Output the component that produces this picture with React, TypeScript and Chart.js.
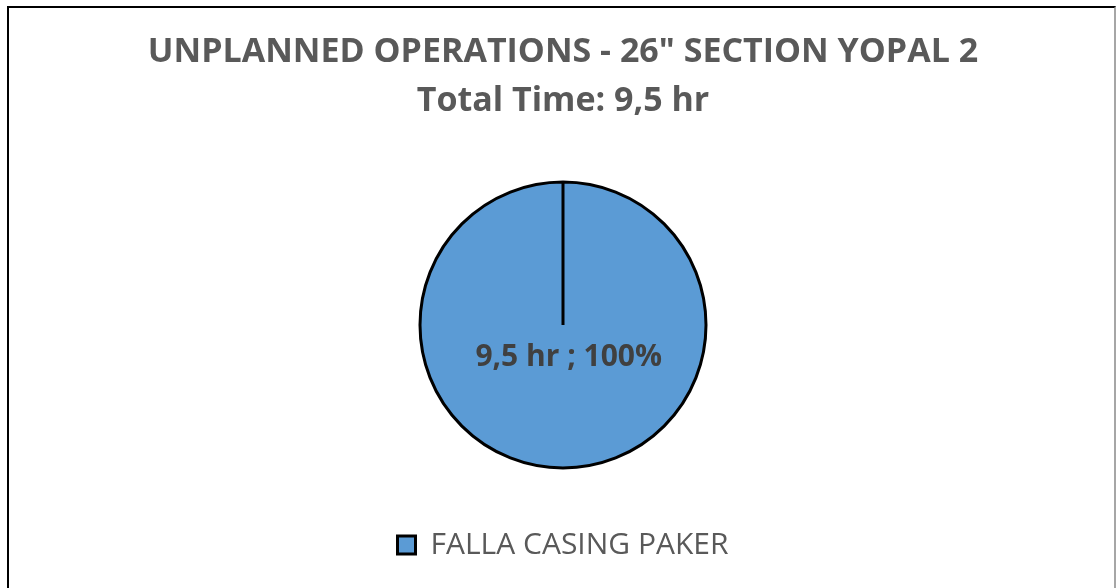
import React, { useEffect, useRef } from "react";
import { Chart, registerables } from "chart.js";

Chart.register(...registerables);

const categories: string[] = ["FALLA CASING PAKER"];
const hours: number[] = [9.5];
const sliceColors: string[] = ["#5B9BD5"];
const titleMain = 'UNPLANNED OPERATIONS - 26" SECTION YOPAL 2';

const fmt = (v: number) => v.toLocaleString("es-CO", { maximumFractionDigits: 1 }).replace(".", ",");

const labelPlugin = {
  id: "sliceLabels",
  afterDatasetsDraw(chart: any) {
    const meta = chart.getDatasetMeta(0);
    const data = chart.data.datasets[0].data as number[];
    const total = data.reduce((a, b) => a + b, 0);
    const ctx = chart.ctx;
    ctx.save();
    ctx.font = "bold 30px 'Open Sans'";
    ctx.fillStyle = "#404040";
    ctx.textAlign = "center";
    ctx.textBaseline = "middle";
    meta.data.forEach((arc: any, i: number) => {
      const { x, y, outerRadius } = arc.getProps(["x", "y", "outerRadius"], true);
      const pct = Math.round((data[i] / total) * 100);
      ctx.fillText(`${fmt(data[i])} hr ; ${pct}%`, x + outerRadius * 0.04, y + outerRadius * 0.23);
    });
    ctx.restore();
  },
};

export default function App() {
  const ref = useRef<HTMLCanvasElement | null>(null);
  useEffect(() => {
    if (!ref.current) return;
    const total = hours.reduce((a, b) => a + b, 0);
    const chart = new Chart(ref.current, {
      type: "pie",
      data: {
        labels: categories,
        datasets: [
          {
            data: hours,
            backgroundColor: sliceColors,
            borderColor: "#000000",
            borderWidth: 3,
            radius: 143,
          } as any,
        ],
      },
      options: {
        animation: false,
        responsive: true,
        maintainAspectRatio: false,
        layout: { padding: { left: 3, right: 0, top: 0, bottom: 0 } },
        plugins: {
          title: {
            display: true,
            text: [titleMain, `Total Time: ${fmt(total)} hr`],
            color: "#595959",
            font: { family: "'Open Sans'", size: 34, weight: "bold", lineHeight: 1.441 },
            padding: { top: 19.5, bottom: 4.5 },
          },
          legend: {
            display: true,
            position: "bottom",
            labels: {
              color: "#595959",
              font: { family: "'Open Sans'", size: 30 },
              boxWidth: 18,
              boxHeight: 18,
              padding: 10,
            },
          },
          tooltip: { enabled: false },
        },
      },
      plugins: [labelPlugin],
    });
    return () => chart.destroy();
  }, []);

  return (
    <div
      style={{
        position: "absolute",
        left: 7,
        top: 6,
        width: 1109,
        height: 620,
        boxSizing: "border-box",
        borderLeft: "2px solid #000",
        borderTop: "2px solid #000",
        borderRight: "2px solid #a6a6a6",
        background: "#fff",
      }}
    >
      <div style={{ position: "relative", width: 1105, height: 562 }}>
        <canvas ref={ref} />
      </div>
    </div>
  );
}
